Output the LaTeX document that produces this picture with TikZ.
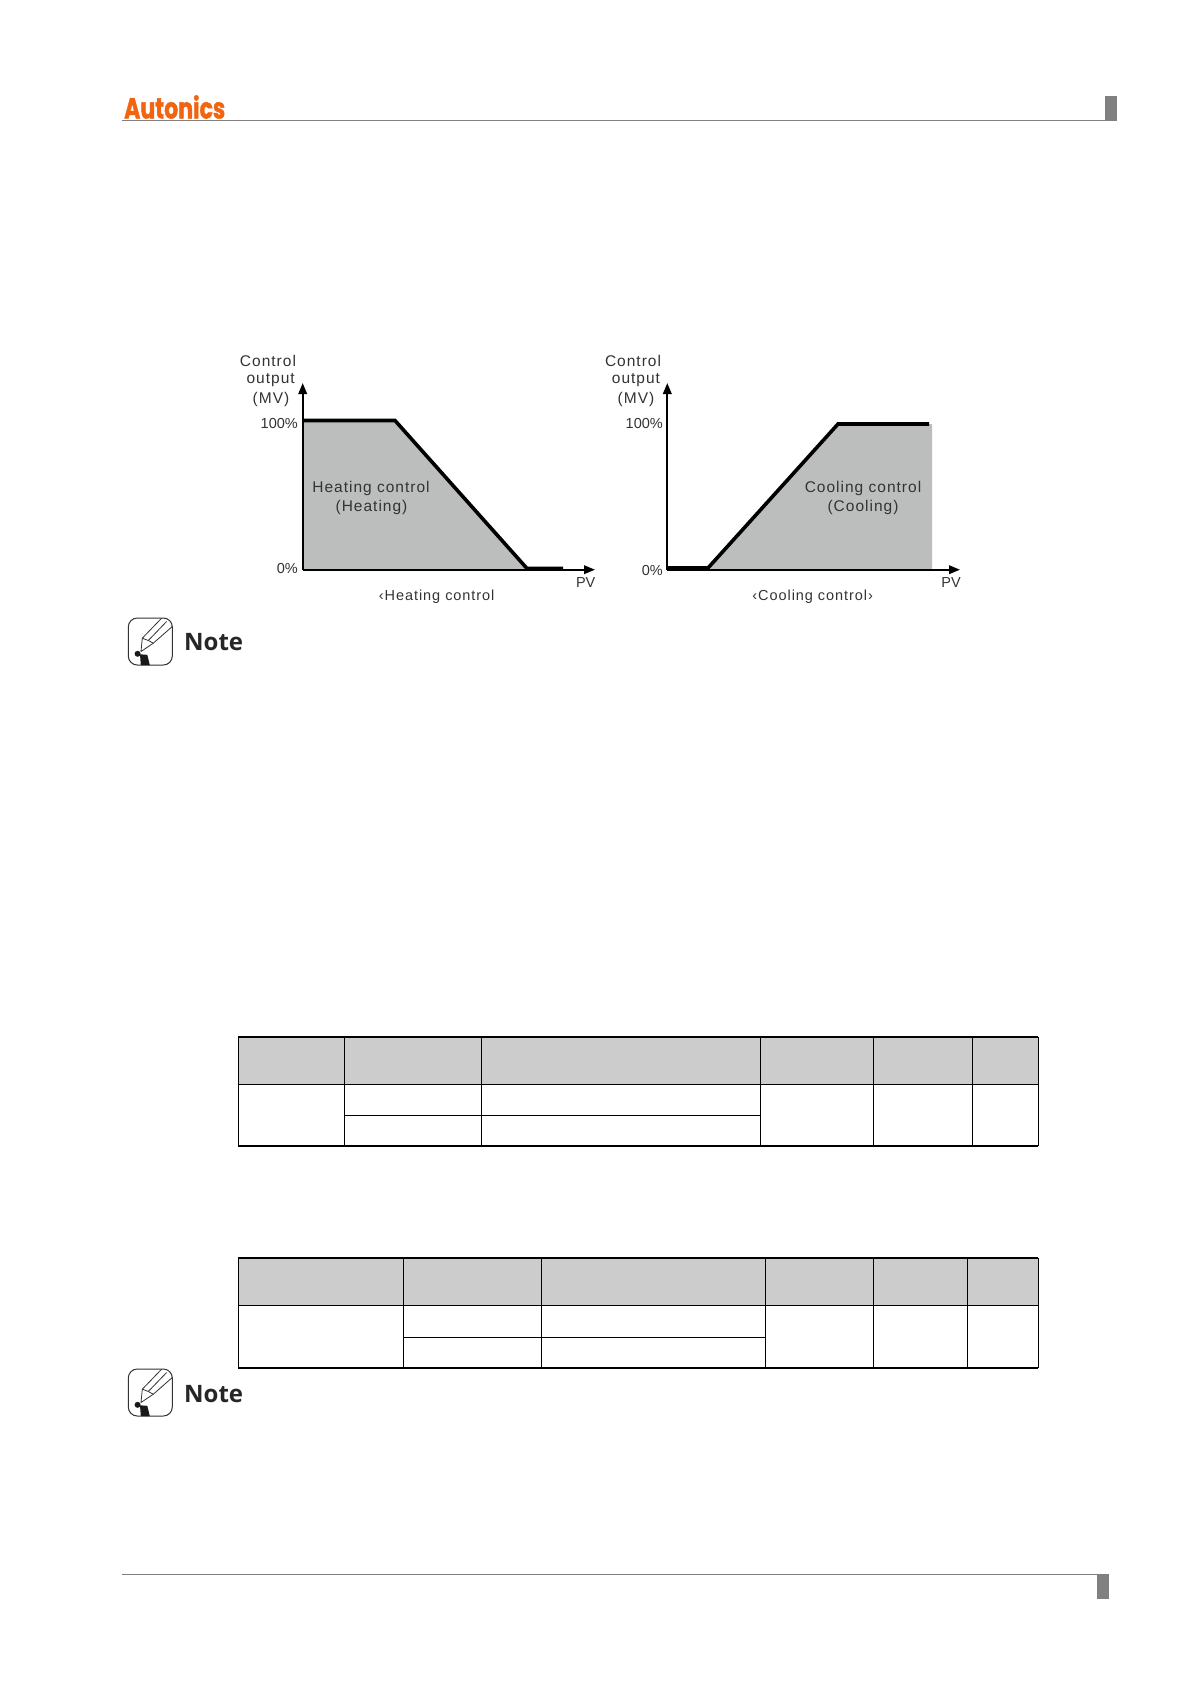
\documentclass[tikz,border=0pt]{standalone}
\usepackage{fontspec}
\usetikzlibrary{arrows.meta}
\setmainfont{Liberation Sans}
\newfontfamily\plotfont[LetterSpace=6.5]{Liberation Sans}
\newfontfamily\numfont{Liberation Sans}
\newfontfamily\notefont{Open Sans}
\newfontfamily\logofont[FakeBold=1.6]{Poppins}
\definecolor{rulegray}{HTML}{808080}
\definecolor{plotfill}{HTML}{BCBEBE}
\definecolor{headfill}{HTML}{CCCCCC}
\definecolor{plotink}{HTML}{333333}
\definecolor{logoorange}{HTML}{F26410}
\tikzset{
  plotlabel/.style={font=\plotfont\fontsize{15.5}{18}\selectfont, text=plotink, inner sep=0pt},
  caplabel/.style={font=\plotfont\fontsize{14.5}{18}\selectfont, text=plotink, inner sep=0pt},
  numlabel/.style={font=\numfont\fontsize{14.5}{18}\selectfont, text=plotink, inner sep=0pt},
  axisline/.style={line width=2pt, -{Triangle[length=11pt,width=8.5pt]}},
  curve/.style={line width=3.6pt, line join=miter},
  thin rule/.style={line width=1.4pt},
  thick rule/.style={line width=2.4pt},
  notetext/.style={font=\notefont\bfseries\fontsize{24}{30}\selectfont, text=black!85, inner sep=0pt, anchor=west},
  pageblock/.style={fill=rulegray, draw=none},
  pic line/.style={line width=0.8pt, draw=black!80},
  notemark/.pic={
    \draw[line width=1pt, draw=black!80, rounded corners=9pt] (-22,-23.5) rectangle (22,23.5);
    \draw[pic line, line join=round] (11.3,-23.3) -- (-8,-3.3) -- (-9.3,10) -- (3,1.7) -- (22,-15);
    \draw[pic line] (-8,-3.3) -- (-2,-1) -- (3,1.7);
    \draw[pic line] (-2,-1) -- (16.3,-20);
    \fill[black!90] (-12.7,12.3) circle (3pt);
    \fill[black!90] (-10.3,12.8) -- (-3,13.3) -- (-0.5,23.5) -- (-9.5,23.5) -- cycle;
  },
}
\begin{document}
\begin{tikzpicture}[x=1pt,y=-1pt]
\useasboundingbox (0,0) rectangle (1191,1684);
% header
\draw[rulegray, line width=1pt] (122,120.5) -- (1105,120.5);
\fill[pageblock] (1105,96) rectangle (1117,121);
\node[inner sep=0pt, anchor=west, text=logoorange, font=\logofont\bfseries\fontsize{29}{30}\selectfont, xscale=0.76] (logo) at (124,107) {Autonics};
% footer
\draw[rulegray, line width=1pt] (122,1574.5) -- (1097,1574.5);
\fill[pageblock] (1097,1574) rectangle (1109,1599);
% heating plot
\fill[plotfill] (303,420) -- (395,420) -- (527,569) -- (303,569) -- cycle;
\coordinate (ha) at (302.7,569.7);
\coordinate (ht) at (302.7,383);
\coordinate (hr) at (595,569.7);
\draw[axisline] (ha) -- (ht);
\draw[axisline] (ha) -- (hr);
\draw[curve] (303,420.5) -- (395,420.5) -- (527,568.5) -- (563,568.5);
\node[plotlabel] (hc) at (268,360.5) {Control};
\node[plotlabel] (ho) at (270.7,380) {output};
\node[plotlabel] (hm) at (271,399) {(MV)};
\node[numlabel, anchor=east] (h100) at (298,423.5) {100\%};
\node[numlabel, anchor=east] (h0) at (298,568.5) {0\%};
\node[numlabel] (hpv) at (585.7,582.5) {PV};
\node[caplabel] (hcap) at (436.7,597) {‹Heating control};
\node[plotlabel] (hl1) at (371,488) {Heating control};
\node[plotlabel] (hl2) at (371.5,507.5) {(Heating)};
% cooling plot
\fill[plotfill] (708,569) -- (838,424) -- (932,424) -- (932,569) -- cycle;
\coordinate (ca) at (667.3,569.7);
\coordinate (ct) at (667.3,383);
\coordinate (cr) at (960,569.7);
\draw[axisline] (ca) -- (ct);
\draw[axisline] (ca) -- (cr);
\draw[curve] (667,568) -- (708,568) -- (838,424) -- (929,424);
\node[plotlabel] (cc) at (633,360.5) {Control};
\node[plotlabel] (co) at (636,380) {output};
\node[plotlabel] (cm) at (636,399) {(MV)};
\node[numlabel, anchor=east] (c100) at (663,423.5) {100\%};
\node[numlabel, anchor=east] (c0) at (663,570.5) {0\%};
\node[numlabel] (cpv) at (951,582.5) {PV};
\node[caplabel] (ccap) at (812.7,597) {‹Cooling control›};
\node[plotlabel] (cl1) at (863,488) {Cooling control};
\node[plotlabel] (cl2) at (863,507.5) {(Cooling)};
% notes
\pic at (150.3,641.5) {notemark};
\node[notetext] (n1) at (184,642.5) {Note};
\pic at (150.3,1392.5) {notemark};
\node[notetext] (n2) at (184,1394) {Note};
% table 1
\fill[headfill] (238.2,1036.7) rectangle (1038.4,1084.3);
\foreach \x in {238.2,344.3,481.4,760.4,873.5,972.6,1038.4}
  \draw[thin rule] (\x,1036.7) -- (\x,1146);
\draw[thin rule] (238.2,1084.3) -- (1038.4,1084.3);
\draw[thin rule] (344.3,1115.3) -- (760.4,1115.3);
\draw[thick rule] (238.2,1036.7) -- (1038.4,1036.7);
\draw[thick rule] (238.2,1146) -- (1038.4,1146);
% table 2
\fill[headfill] (238.2,1257.7) rectangle (1038.4,1305.3);
\foreach \x in {238.2,403.2,541.4,765.3,873.5,967.2,1038.4}
  \draw[thin rule] (\x,1257.7) -- (\x,1367.7);
\draw[thin rule] (238.2,1305.3) -- (1038.4,1305.3);
\draw[thin rule] (403.2,1337.3) -- (765.3,1337.3);
\draw[thick rule] (238.2,1257.7) -- (1038.4,1257.7);
\draw[thick rule] (238.2,1367.7) -- (1038.4,1367.7);
\end{tikzpicture}
\end{document}
